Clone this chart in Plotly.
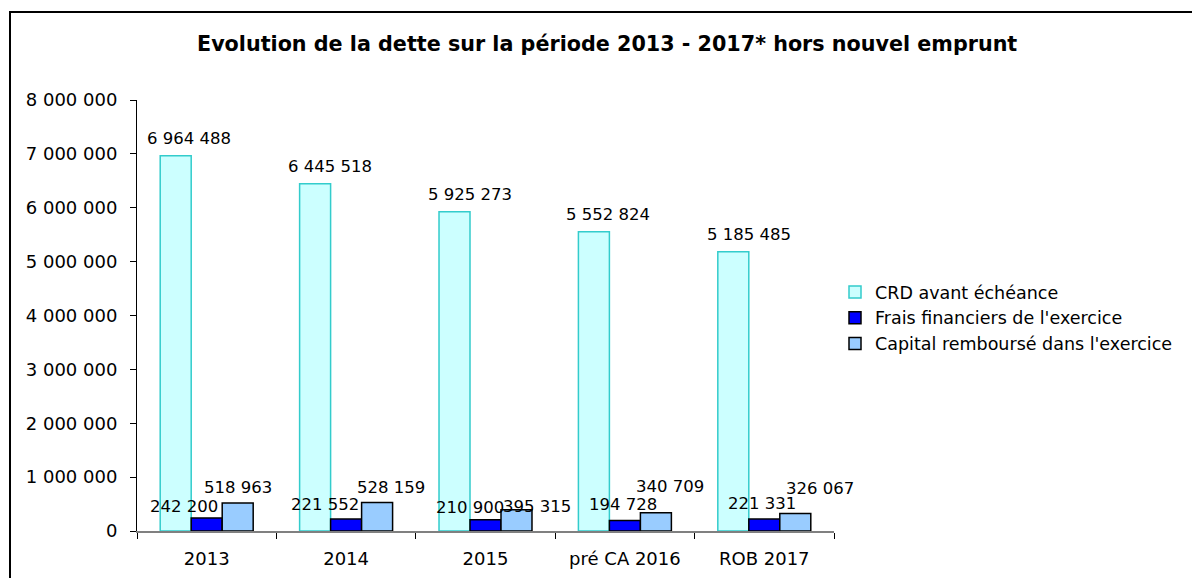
import plotly.graph_objects as go

categories = ["2013", "2014", "2015", "pré CA 2016", "ROB 2017"]
crd = [6964488, 6445518, 5925273, 5552824, 5185485]
frais = [242200, 221552, 210900, 194728, 221331]
capital = [518963, 528159, 395315, 340709, 326067]
series_names = ["CRD avant échéance", "Frais financiers de l'exercice", "Capital remboursé dans l'exercice"]
title_text = "Evolution de la dette sur la période 2013 - 2017* hors nouvel emprunt"

FONT = "DejaVu Sans, Verdana, sans-serif"
BAR_PX = 31  # pixel distance between bar centres within a group

# label placement tweaks (pixels) relative to each bar top-centre
label_dx = {
    0: [13, 15, 15, 14, 16],
    1: [-23, -21, -16, -2, -2],
    2: [0, 14, 20, 14, 25],
}
label_dy = {
    0: [17, 17, 17, 17, 17],
    1: [11, 15, 12, 16, 16],
    2: [16, 15, 3, 26, 25],
}

fig = go.Figure()
styles = [
    dict(color="#CCFFFF", line=dict(color="#33CCCC", width=1.5)),
    dict(color="#0000FF", line=dict(color="#000000", width=1.5)),
    dict(color="#99CCFF", line=dict(color="#000000", width=1.5)),
]
all_series = [crd, frais, capital]
for i, (name, vals) in enumerate(zip(series_names, all_series)):
    fig.add_trace(go.Bar(x=categories, y=vals, name=name, marker=styles[i]))

fmt = lambda v: f"{v:,}".replace(",", " ")
annotations = []
for i, vals in enumerate(all_series):
    for j, v in enumerate(vals):
        annotations.append(dict(
            x=j, y=v, xref="x", yref="y", text=fmt(v), showarrow=False,
            xshift=(i - 1) * BAR_PX + label_dx[i][j], yshift=label_dy[i][j],
            xanchor="center", yanchor="middle",
            font=dict(family=FONT, size=16.5, color="#000000"),
        ))

L, R, T, B = 137, 358, 100, 47
W, H = 1192, 578
pw, ph = W - L - R, H - T - B
annotations.append(dict(
    text="<b>" + title_text + "</b>", xref="paper", yref="paper",
    x=(607 - L) / pw, y=(H - B - 44) / ph, showarrow=False,
    xanchor="center", yanchor="middle",
    font=dict(family=FONT, size=20.7, color="#000000"),
))

fig.update_layout(
    width=W, height=H,
    margin=dict(l=L, r=R, t=T, b=B, pad=0),
    paper_bgcolor="white", plot_bgcolor="white",
    barmode="group", bargap=0.333, bargroupgap=0,
    separators=", ",
    font=dict(family=FONT, size=18, color="#000000"),
    showlegend=True,
    legend=dict(
        x=(835 - L) / pw, y=(H - B - 274) / ph, xanchor="left", yanchor="top",
        font=dict(family=FONT, size=17.5, color="#000000"),
        bgcolor="rgba(0,0,0,0)", tracegroupgap=0,
    ),
    annotations=annotations,
    shapes=[dict(
        type="rect", xref="paper", yref="paper",
        x0=(10 - L) / pw, x1=(1200 - L) / pw,
        y0=(H - B - 590) / ph, y1=(H - B - 12) / ph,
        line=dict(color="#000000", width=2), fillcolor="rgba(0,0,0,0)", layer="below",
    )],
)
fig.update_yaxes(
    range=[0, 8000000], dtick=1000000, tickformat=",d",
    showgrid=False, zeroline=False, showline=True, linecolor="#000000", linewidth=1,
    ticks="outside", ticklen=6, tickcolor="#000000", ticklabelstandoff=9,
    tickfont=dict(family=FONT, size=18), fixedrange=True, automargin=False,
)
fig.update_xaxes(
    type="category", range=[-0.5, len(categories) - 0.5], tickangle=0, automargin=False,
    showgrid=False, showline=True, linecolor="#808080", linewidth=2,
    ticks="outside", tickson="boundaries", ticklen=6, tickcolor="#000000",
    ticklabelstandoff=10,
    tickfont=dict(family=FONT, size=18),
)

fig.write_html("out.html", config={"displayModeBar": False},
               post_script="document.body.style.margin='0';document.body.style.overflow='hidden';")
